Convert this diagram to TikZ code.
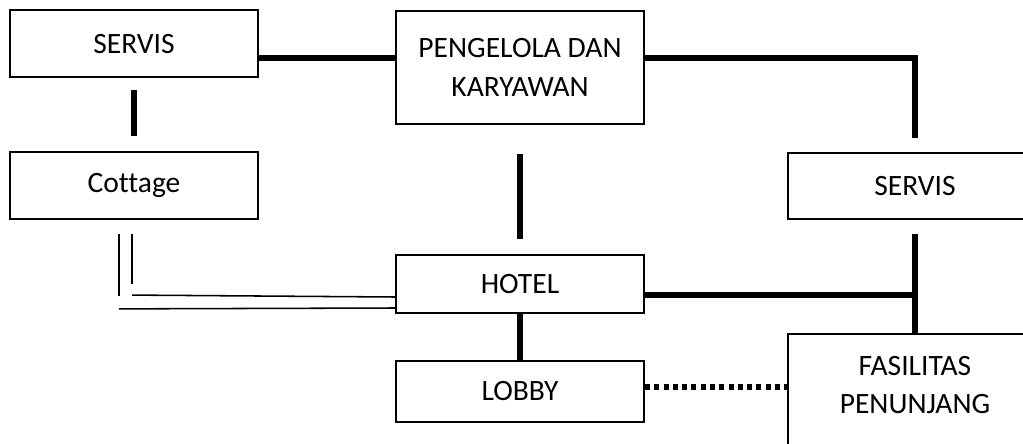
\documentclass[tikz,border=0pt]{standalone}
\usepackage{fontspec}
\setmainfont[Ligatures=NoCommon]{Carlito}
\usetikzlibrary{positioning, calc}

\begin{document}
\begin{tikzpicture}[
  ubox/.style={draw=black, line width=1.4pt, minimum width=6.2cm, minimum height=1.675cm, align=center, inner sep=0pt, font=\fontsize{21}{27.5}\selectfont},
  thickline/.style={line width=3.6pt},
  thinline/.style={line width=1.1pt},
  dotline/.style={line width=3.6pt, dash pattern=on 3.6pt off 3pt}
]
  \clip (0,0) rectangle (25.575,11.075);
  \useasboundingbox (0,0) rectangle (25.575,11.075);

  % boxes
  \node[ubox] (servisL) at (3.35, 9.98) {SERVIS};
  \node[ubox] (cottage) at (3.35, 6.44) {Cottage};
  \node[ubox, minimum height=2.825cm] (pengelola) at (13.0, 9.39) {PENGELOLA DAN\\KARYAWAN};
  \node[ubox, minimum height=1.45cm] (hotel) at (13.0, 3.975) {HOTEL};
  \node[ubox, minimum height=1.525cm] (lobby) at (13.0, 1.29) {LOBBY};
  \node[ubox, minimum width=6.35cm, minimum height=1.65cm] (servisR) at (22.875, 6.425) {SERVIS};
  \node[ubox, minimum width=6.35cm, minimum height=3.15cm] (fasil) at (22.875, 1.15) {};
  \node[ubox, draw=none] (fasiltext) at (22.875, 1.45) {FASILITAS\\PENUNJANG};

  % helper levels
  \coordinate (topline) at (0, 9.625);
  \coordinate (hotline) at (0, 3.7);
  \coordinate (dotlvl) at (0, 1.4);

  % connectors
  \draw[thickline, shorten <=0.3cm, shorten >=0.37cm] (servisL) -- (cottage);
  \draw[thickline] (servisL.east |- topline) -- (pengelola.west |- topline);
  \draw[thickline, shorten >=0.35cm] (pengelola.east |- topline) -| (servisR.north);
  \draw[thickline, shorten <=0.725cm, shorten >=0.375cm] (pengelola) -- (hotel);
  \draw[thickline, shorten <=0.35cm] (servisR) -- (fasil);
  \draw[thickline] (hotel.east |- hotline) -- (servisR.south |- hotline);
  \draw[thickline] (hotel) -- (lobby);
  \draw[dotline] (lobby.east |- dotlvl) -- (fasil.west |- dotlvl);

  % double line cottage - hotel
  \coordinate (dblL) at ([xshift=-0.375cm, yshift=-0.35cm]cottage.south);
  \coordinate (dblR) at ([xshift=-0.05cm, yshift=-0.35cm]cottage.south);
  \draw[thinline] (dblL) -- ++(0,-1.55);
  \draw[thinline] (dblR) -- ++(0,-1.25);
  \draw[thinline] ($(dblR)+(0,-1.53)$) -- (hotel.west |- 0,3.65);
  \draw[thinline] ($(dblL)+(0,-1.875)$) -- (hotel.west |- 0,3.375);
\end{tikzpicture}
\end{document}
